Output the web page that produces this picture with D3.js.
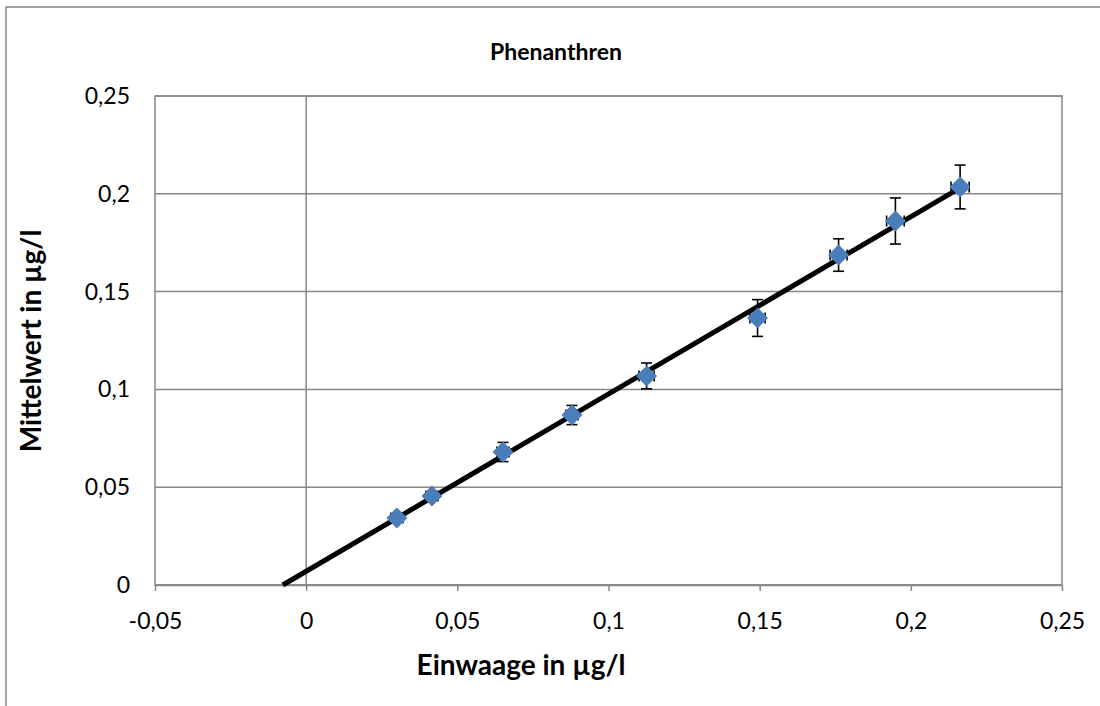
<!DOCTYPE html>
<html><head><meta charset="utf-8">
<script src="https://cdn.jsdelivr.net/npm/d3@7/dist/d3.min.js"></script>
<style>body{margin:0;background:#fff}svg{display:block}text{font-family:Lato,"Open Sans",sans-serif;fill:#000}</style>
</head><body><svg id="c" width="1100" height="706"></svg>
<script>
const title = "Phenanthren";
const xTitle = "Einwaage in µg/l";
const yTitle = "Mittelwert in µg/l";
const xValues = [0.0300, 0.0416, 0.0651, 0.0879, 0.1126, 0.1493, 0.1761, 0.1949, 0.2163];
const yValues = [0.0343, 0.0455, 0.0680, 0.0869, 0.1069, 0.1365, 0.1687, 0.1861, 0.2035];
const yErrors = [0.0018, 0.0020, 0.0049, 0.0049, 0.0066, 0.0094, 0.0083, 0.0118, 0.0112];
const xErrors = [0.0020, 0.0020, 0.0020, 0.0020, 0.0025, 0.0025, 0.0028, 0.0029, 0.0030];
const xTicks = [-0.05, 0, 0.05, 0.1, 0.15, 0.2, 0.25];
const yTicks = [0, 0.05, 0.1, 0.15, 0.2, 0.25];

const svg = d3.select("#c");
const fmt = v => String(+v.toFixed(3)).replace(".", ",");
const x = d3.scaleLinear().domain([-0.05, 0.25]).range([155, 1062]);
const y = d3.scaleLinear().domain([0, 0.25]).range([585, 96]);
const grey = "#878787";

// outer chart frame (extends beyond the window)
svg.append("rect").attr("x", 6).attr("y", 7).attr("width", 1200).attr("height", 800)
  .attr("fill", "none").attr("stroke", grey).attr("stroke-width", 1.5);

// horizontal gridlines
svg.append("g").selectAll("line").data(yTicks).join("line")
  .attr("x1", x(-0.05)).attr("x2", x(0.25)).attr("y1", d => y(d)).attr("y2", d => y(d))
  .attr("stroke", grey).attr("stroke-width", 1.5);
// plot area border
svg.append("rect").attr("x", x(-0.05)).attr("y", y(0.25))
  .attr("width", x(0.25) - x(-0.05)).attr("height", y(0) - y(0.25))
  .attr("fill", "none").attr("stroke", grey).attr("stroke-width", 1.5);
// value axis line at x = 0
svg.append("line").attr("x1", x(0)).attr("x2", x(0)).attr("y1", y(0.25)).attr("y2", y(0))
  .attr("stroke", grey).attr("stroke-width", 1.5);

// x axis
const xa = svg.append("g").attr("transform", `translate(0,${y(0)})`)
  .call(d3.axisBottom(x).tickValues(xTicks).tickFormat(fmt).tickSize(6).tickSizeOuter(0));
xa.select(".domain").attr("stroke", grey).attr("stroke-width", 1.5);
xa.selectAll(".tick line").attr("stroke", grey).attr("stroke-width", 1.5);
xa.selectAll(".tick text").attr("font-size", 23).attr("dy", "0").attr("y", 44).attr("font-family", "Lato");

// y labels on the left of the plot area
svg.append("g").selectAll("text").data(yTicks).join("text")
  .attr("x", 130).attr("y", d => y(d)).attr("dy", "0.35em").attr("text-anchor", "end")
  .attr("font-size", 23).text(fmt);

// titles
svg.append("text").attr("x", 556).attr("y", 60).attr("text-anchor", "middle")
  .attr("font-weight", "bold").attr("font-size", 23).text(title);
svg.append("text").attr("x", 521).attr("y", 675).attr("text-anchor", "middle")
  .attr("font-weight", "bold").attr("font-size", 28).text(xTitle);
svg.append("text").attr("transform", "translate(41,341) rotate(-90)").attr("text-anchor", "middle")
  .attr("font-weight", "bold").attr("font-size", 28).text(yTitle);

// linear trendline (least squares), backward-extended to y = 0
const mx = d3.mean(xValues), my = d3.mean(yValues);
const slope = d3.sum(xValues, (v, i) => (v - mx) * (yValues[i] - my)) / d3.sum(xValues, v => (v - mx) ** 2);
const icpt = my - slope * mx;
const x0 = -icpt / slope, x1 = d3.max(xValues);
svg.append("line").attr("x1", x(x0)).attr("y1", y(0)).attr("x2", x(x1)).attr("y2", y(slope * x1 + icpt))
  .attr("stroke", "#000").attr("stroke-width", 5);

const pts = xValues.map((v, i) => ({x: v, y: yValues[i], ex: xErrors[i], ey: yErrors[i]}));
// error bars
const eb = svg.append("g").attr("stroke", "#000").attr("stroke-width", 1.6);
pts.forEach(p => {
  const cx = x(p.x), cy = y(p.y);
  eb.append("line").attr("x1", cx).attr("x2", cx).attr("y1", y(p.y + p.ey)).attr("y2", y(p.y - p.ey));
  [p.y + p.ey, p.y - p.ey].forEach(v => eb.append("line").attr("x1", cx - 5.5).attr("x2", cx + 5.5).attr("y1", y(v)).attr("y2", y(v)));
  eb.append("line").attr("x1", x(p.x - p.ex)).attr("x2", x(p.x + p.ex)).attr("y1", cy).attr("y2", cy);
  [p.x - p.ex, p.x + p.ex].forEach(v => eb.append("line").attr("x1", x(v)).attr("x2", x(v)).attr("y1", cy - 5.5).attr("y2", cy + 5.5));
});
// markers
svg.append("g").selectAll("path").data(pts).join("path")
  .attr("d", "M0,-10.5L10.5,0L0,10.5L-10.5,0Z")
  .attr("transform", d => `translate(${x(d.x)},${y(d.y)})`)
  .attr("fill", "#4a7ebb");
</script></body></html>
